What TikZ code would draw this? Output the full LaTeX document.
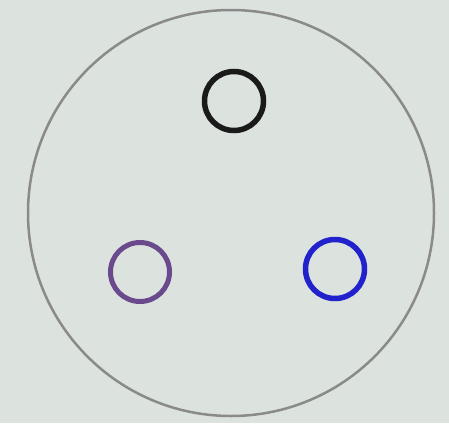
\documentclass[tikz,border=0pt]{standalone}
\definecolor{bg}{HTML}{DCE3DF}
\definecolor{rim}{HTML}{8A8A8A}
\definecolor{ringpurple}{HTML}{6A4A8C}
\definecolor{ringblue}{HTML}{2222CC}
\definecolor{ringblack}{HTML}{1A1A1A}
\begin{document}
\begin{tikzpicture}[x=1pt,y=-1pt,
  ring/.style={circle,inner sep=0pt,minimum size=59pt,line width=5.5pt}]
\fill[bg] (0,0) rectangle (449,423);
\useasboundingbox (0,0) rectangle (449,423);
\node[circle,draw=rim,line width=2.5pt,fill=bg,minimum size=406pt,inner sep=0pt] (plate) at (231,213) {};
\node[ring,draw=ringblack] (top) at (234,101) {};
\node[ring,draw=ringpurple,line width=5pt] (left) at (140,272) {};
\node[ring,draw=ringblue] (right) at (335,269) {};
\end{tikzpicture}
\end{document}
